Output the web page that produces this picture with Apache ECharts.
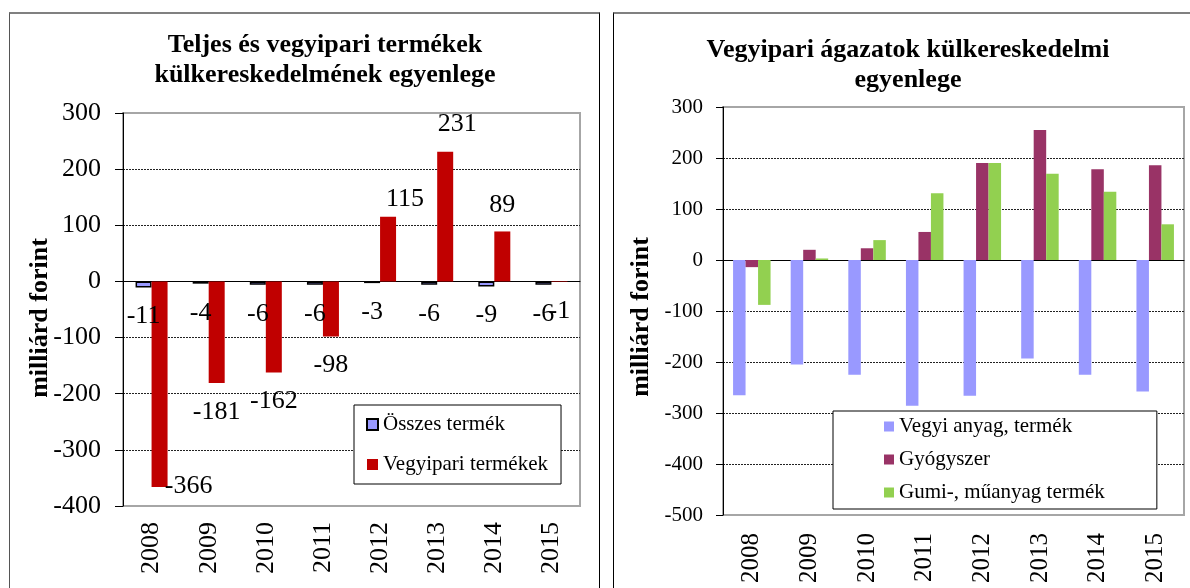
<!DOCTYPE html>
<html style="height: 100%">
   <head>
       <meta charset="utf-8">
       <style>
         body { margin: 0; background: #fff; }
         .panel { position: absolute; box-sizing: border-box; height: 640px; border-top: 2px solid #808080; }
         #panelLeft { left: 9px; top: 12px; width: 591px; border-left: 1px solid #555; border-right: 1px solid #000; }
         #panelRight { left: 613px; top: 12px; width: 620px; border-left: 1px solid #000; }
         #container { position: absolute; left: 0; top: 0; width: 1190px; height: 588px; }
       </style>
   </head>
   <body>
       <div class="panel" id="panelLeft"></div>
       <div class="panel" id="panelRight"></div>
       <div id="container"></div>
       <script type="text/javascript" src="https://cdn.jsdelivr.net/npm/echarts@6.0.0/dist/echarts.min.js"></script>
       <script type="text/javascript">
        // adatok (milliárd forint)
        var years = ['2008', '2009', '2010', '2011', '2012', '2013', '2014', '2015'];
        var osszesTermek = [-11, -4, -6, -6, -3, -6, -9, -6];
        var vegyipariTermekek = [-366, -181, -162, -98, 115, 231, 89, -1];
        var vegyiAnyag = [-265, -205, -225, -286, -266, -193, -225, -258];
        var gyogyszer = [-14, 20, 23, 55, 190, 255, 178, 186];
        var gumiMuanyag = [-88, 3, 39, 131, 190, 169, 134, 70];

        // kézzel elmozgatott feliratok a bal oldali diagramon
        var redLabelShift = {0: [29, -30], 4: [17, 8], 5: [12, -2]};

        var serif = "'Liberation Serif', 'Times New Roman', serif";

        function barItems(values, shifts) {
            return values.map(function (v, i) {
                var item = {value: v, label: {position: v < 0 ? 'bottom' : 'top', distance: v < 0 ? 16 : 13}};
                if (shifts && shifts[i]) item.label.offset = shifts[i];
                return item;
            });
        }

        function valueAxis(grid, min, fontSize, margin, tickLen) {
            return {
                type: 'value', gridIndex: grid, min: min, max: 300, interval: 100,
                axisLine: {show: true, lineStyle: {color: '#000', width: 1}},
                axisTick: {show: true, length: tickLen, lineStyle: {color: '#000'}},
                axisLabel: {fontFamily: serif, fontSize: fontSize, color: '#000', margin: margin},
                splitLine: {show: true, showMinLine: false, showMaxLine: false,
                    lineStyle: {color: '#222', type: [2, 1], width: 1}}
            };
        }

        function zeroAxis(grid, tickLen) {
            return {
                type: 'category', gridIndex: grid, data: years, position: 'bottom',
                axisLine: {onZero: true, lineStyle: {color: '#000', width: 1}},
                axisTick: {length: tickLen, lineStyle: {color: '#000'}},
                axisLabel: {show: false}
            };
        }

        function labelAxis(grid, fontSize, margin) {
            return {
                type: 'category', gridIndex: grid, data: years, position: 'bottom',
                axisLine: {show: false, onZero: false}, axisTick: {show: false},
                axisLabel: {rotate: 90, fontFamily: serif, fontSize: fontSize, color: '#000', margin: margin}
            };
        }

        var dom = document.getElementById("container");
        var myChart = echarts.init(dom);
        var option = {
            animation: false,
            title: [{
                text: 'Teljes és vegyipari termékek\nkülkereskedelmének egyenlege',
                left: 325, top: 30, textAlign: 'center', padding: 0,
                textStyle: {fontFamily: serif, fontSize: 26, fontWeight: 'bold', lineHeight: 30, color: '#000'}
            }, {
                text: 'Vegyipari ágazatok külkereskedelmi\negyenlege',
                left: 908, top: 35, textAlign: 'center', padding: 0,
                textStyle: {fontFamily: serif, fontSize: 26, fontWeight: 'bold', lineHeight: 30, color: '#000'}
            }],
            legend: [{
                data: ['Összes termék', 'Vegyipari termékek'],
                orient: 'vertical', left: 354, top: 405,
                padding: [9, 13, 9, 12], itemGap: 19, itemWidth: 11, itemHeight: 11,
                borderColor: '#000', borderWidth: 1, backgroundColor: '#fff',
                icon: 'rect',
                textStyle: {fontFamily: serif, fontSize: 21, color: '#000'}
            }, {
                data: ['Vegyi anyag, termék', 'Gyógyszer', 'Gumi-, műanyag termék'],
                orient: 'vertical', left: 833, top: 411,
                padding: [5, 52, 6, 51], itemGap: 12, itemWidth: 10, itemHeight: 10,
                borderColor: '#000', borderWidth: 1, backgroundColor: '#fff',
                icon: 'rect',
                textStyle: {fontFamily: serif, fontSize: 21, color: '#000'}
            }],
            grid: [
                {left: 123, top: 113, width: 457, height: 393, show: true, borderColor: '#a6a6a6', borderWidth: 2},
                {left: 723, top: 107, width: 461, height: 408, show: true, borderColor: '#a6a6a6', borderWidth: 2}
            ],
            xAxis: [zeroAxis(0, 6), labelAxis(0, 26, 16), zeroAxis(1, 6), labelAxis(1, 25, 18)],
            yAxis: [valueAxis(0, -400, 26, 22, 8), valueAxis(1, -500, 21, 20, 7)],
            graphic: [{
                type: 'text', x: 40, y: 318, rotation: Math.PI / 2,
                style: {text: 'milliárd forint', fontFamily: serif, fontSize: 26, fontWeight: 'bold',
                    fill: '#000', align: 'center', verticalAlign: 'middle'}
            }, {
                type: 'text', x: 641, y: 317, rotation: Math.PI / 2,
                style: {text: 'milliárd forint', fontFamily: serif, fontSize: 26, fontWeight: 'bold',
                    fill: '#000', align: 'center', verticalAlign: 'middle'}
            }],
            series: [{
                name: 'Összes termék', type: 'bar', xAxisIndex: 0, yAxisIndex: 0,
                barWidth: 16, barGap: '0%',
                itemStyle: {color: '#9999ff', borderColor: '#000', borderWidth: 1.5},
                label: {show: true, fontFamily: serif, fontSize: 26, color: '#000'},
                data: barItems(osszesTermek)
            }, {
                name: 'Vegyipari termékek', type: 'bar', xAxisIndex: 0, yAxisIndex: 0,
                barWidth: 16, barGap: '0%',
                itemStyle: {color: '#c00000'},
                label: {show: true, fontFamily: serif, fontSize: 26, color: '#000'},
                data: barItems(vegyipariTermekek, redLabelShift)
            }, {
                name: 'Vegyi anyag, termék', type: 'bar', xAxisIndex: 2, yAxisIndex: 1,
                barWidth: 12.5, barGap: '0%',
                itemStyle: {color: '#9999ff'},
                data: vegyiAnyag
            }, {
                name: 'Gyógyszer', type: 'bar', xAxisIndex: 2, yAxisIndex: 1,
                barWidth: 12.5, barGap: '0%',
                itemStyle: {color: '#993366'},
                data: gyogyszer
            }, {
                name: 'Gumi-, műanyag termék', type: 'bar', xAxisIndex: 2, yAxisIndex: 1,
                barWidth: 12.5, barGap: '0%',
                itemStyle: {color: '#92d050'},
                data: gumiMuanyag
            }]
        };

        myChart.setOption(option, true);
       </script>
   </body>
</html>
